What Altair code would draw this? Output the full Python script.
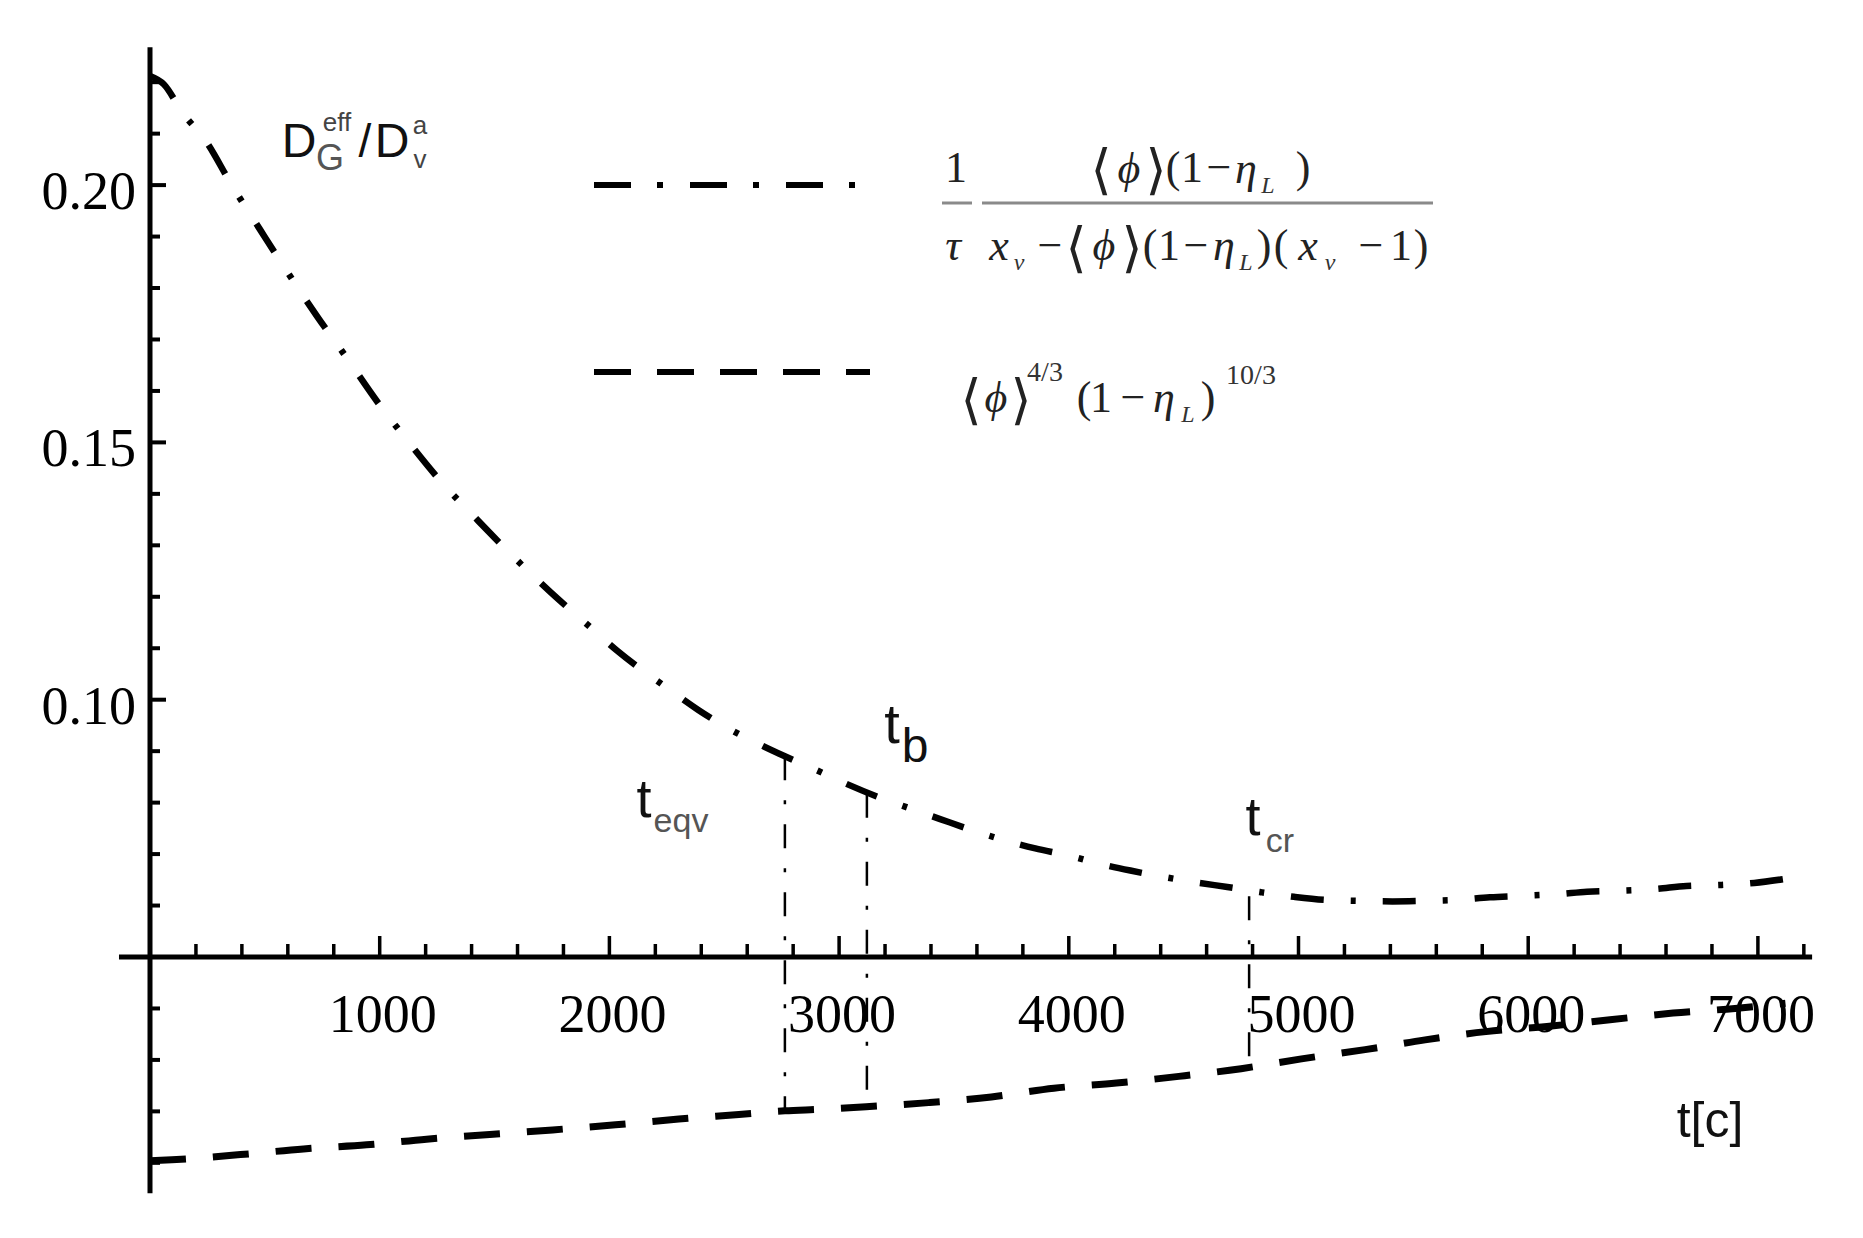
import altair as alt
import pandas as pd

# ---------------- values ----------------
# upper curve (dash-dot):  1/tau * <phi>(1-eta_L) / (x_v - <phi>(1-eta_L)(x_v-1))
upper_t = [0, 60, 141, 241, 356, 480, 597, 726, 860, 988,
           1127, 1265, 1428, 1582, 1746, 1914, 2034, 2260, 2387, 2503,
           2636, 2764, 2902, 3024, 3164, 3300, 3440, 3582, 3718, 3854,
           4000, 4126, 4268, 4408, 4554, 4690, 4835, 4980, 5114, 5262,
           5409, 5547, 5695, 5833, 5980, 6127, 6256, 6409, 6551, 6689,
           6836, 6984, 7122]
upper_v = [0.2212, 0.2196, 0.2141, 0.2087, 0.2000, 0.1913, 0.1832, 0.1746, 0.1662, 0.1580,
           0.1500, 0.1425, 0.1348, 0.1278, 0.1208, 0.1142, 0.1095, 0.1020, 0.0980, 0.0948,
           0.0917, 0.0890, 0.0863, 0.0838, 0.0812, 0.0790, 0.0768, 0.0746, 0.0727, 0.0711,
           0.0697, 0.0682, 0.0668, 0.0656, 0.0645, 0.0636, 0.0626, 0.0617, 0.0611, 0.0609,
           0.0608, 0.0609, 0.0611, 0.0616, 0.0619, 0.0622, 0.0627, 0.0629, 0.0632, 0.0638,
           0.0640, 0.0644, 0.0652]

# lower curve (dashed):  <phi>^(4/3) (1-eta_L)^(10/3)
lower_t = [0, 95, 394, 668, 943, 1204, 1479, 1753, 2027, 2302,
           2564, 2764, 2919, 3118, 3390, 3663, 3935, 4207, 4479, 4750,
           5013, 5290, 5551, 5816, 6102, 6356, 6631, 6900, 7120]
lower_v = [0.0104, 0.0106, 0.0116, 0.0127, 0.0135, 0.0146, 0.0155, 0.0164, 0.0174, 0.0185,
           0.0194, 0.0201, 0.0204, 0.0209, 0.0217, 0.0228, 0.0245, 0.0255, 0.0268, 0.0283,
           0.0302, 0.0320, 0.0339, 0.0355, 0.0366, 0.0378, 0.0391, 0.0400, 0.0410]

# vertical markers t_eqv, t_b, t_cr
marker_t = [2764, 3121, 4785]
marker_top = [0.0890, 0.0817, 0.0618]
marker_bottom = [0.0201, 0.0209, 0.0286]

# axes
x_tick_values = [1000, 2000, 3000, 4000, 5000, 6000, 7000]
x_tick_labels = ["1000", "2000", "3000", "4000", "5000", "6000", "7000"]
x_minor_values = [200, 400, 600, 800, 1200, 1400, 1600, 1800, 2200, 2400, 2600, 2800,
                  3200, 3400, 3600, 3800, 4200, 4400, 4600, 4800, 5200, 5400, 5600, 5800,
                  6200, 6400, 6600, 6800, 7200]
y_tick_values = [0.10, 0.15, 0.20]
y_tick_labels = ["0.10", "0.15", "0.20"]
y_minor_values = [0.01, 0.02, 0.03, 0.04, 0.06, 0.07, 0.08, 0.09, 0.11, 0.12, 0.13, 0.14,
                  0.16, 0.17, 0.18, 0.19, 0.21, 0.22]
x_axis_extent = [-135, 7236]
y_axis_extent = [0.0041, 0.2268]
axis_cross_v = 0.05

# ---------------- layout ----------------
W, H = 1840, 1212
M = 8
X0, SX = 150.0, 0.2297      # page px of t=0, px per unit t
Y0, SY = 957.0, 5146.0      # page px of v=0.05, px per unit v


def tx(px):
    return (px - X0) / SX


def vy(py):
    return axis_cross_v + (Y0 - py) / SY


XMIN, XMAX = tx(M), tx(M + W)
YMAX, YMIN = vy(M), vy(M + H)

xs = alt.Scale(domain=[XMIN, XMAX], nice=False, zero=False)
ys = alt.Scale(domain=[YMIN, YMAX], nice=False, zero=False)
X = alt.X("t:Q", scale=xs, axis=None)
Y = alt.Y("v:Q", scale=ys, axis=None)

SERIF = "Liberation Serif, Times New Roman, DejaVu Serif, serif"
SANS = "Liberation Sans, Arial, DejaVu Sans, sans-serif"


def rules(df, **mk):
    return alt.Chart(df).mark_rule(**mk).encode(
        x=X, x2=alt.X2("t2:Q"), y=Y, y2=alt.Y2("v2:Q"))


# curves
upper = alt.Chart(pd.DataFrame({"t": upper_t, "v": upper_v})).mark_line(
    color="black", strokeWidth=6.5, strokeDash=[33, 27, 5, 27], interpolate="monotone"
).encode(x=X, y=Y)
lower = alt.Chart(pd.DataFrame({"t": lower_t, "v": lower_v})).mark_line(
    color="black", strokeWidth=7, strokeDash=[36, 27], interpolate="monotone"
).encode(x=X, y=Y)

markers = rules(pd.DataFrame({"t": marker_t, "t2": marker_t, "v": marker_top, "v2": marker_bottom}),
                color="black", strokeWidth=2.5, strokeDash=[24, 20, 4, 20])

# axis lines
axes_df = pd.DataFrame({"t": [x_axis_extent[0], 0], "t2": [x_axis_extent[1], 0],
                        "v": [axis_cross_v, y_axis_extent[0]], "v2": [axis_cross_v, y_axis_extent[1]]})
axes = rules(axes_df, color="black", strokeWidth=5)

# ticks (y ticks point right, x ticks point up)
yt = y_tick_values + y_minor_values
ylen = [16] * len(y_tick_values) + [10] * len(y_minor_values)
yticks = rules(pd.DataFrame({"t": [0] * len(yt), "t2": [l / SX for l in ylen], "v": yt, "v2": yt}),
               color="black", strokeWidth=4)
xt = x_tick_values + x_minor_values
xlen = [21] * len(x_tick_values) + [13] * len(x_minor_values)
xticks = rules(pd.DataFrame({"t": xt, "t2": xt, "v": [axis_cross_v] * len(xt),
                             "v2": [axis_cross_v + l / SY for l in xlen]}),
               color="black", strokeWidth=3.5)

# tick labels
xlab = alt.Chart(pd.DataFrame({"t": x_tick_values, "v": [vy(1032)] * len(x_tick_values),
                               "text": x_tick_labels})).mark_text(
    font=SERIF, fontSize=54, align="center", baseline="alphabetic", dx=3, color="black"
).encode(x=X, y=Y, text="text:N")
ylab = alt.Chart(pd.DataFrame({"t": [0] * len(y_tick_values), "v": y_tick_values,
                               "text": y_tick_labels})).mark_text(
    font=SERIF, fontSize=54, align="right", baseline="alphabetic", dx=-14, dy=24, color="black"
).encode(x=X, y=Y, text="text:N")

# ---------------- annotations (page px: centre x, baseline y) ----------------
sans_rows = [
    ("D", 299, 157, 48, "#111"), ("eff", 337, 131, 26, "#444"), ("G", 330, 170, 36, "#555"),
    ("/", 365, 157, 46, "#111"), ("D", 392, 157, 48, "#111"), ("a", 420, 134, 26, "#444"),
    ("v", 420, 168, 26, "#444"),
    ("t", 892, 743, 56, "#111"), ("b", 915, 762, 48, "#111"),
    ("t", 644, 817, 54, "#111"), ("eqv", 681, 832, 34, "#555"),
    ("t", 1253, 835, 54, "#111"), ("cr", 1280, 852, 34, "#555"),
    ("t[c]", 1710, 1137, 50, "#111"),
]
serif_rows = [
    ("1", 956, 182, 44, "#222"),
    ("(", 1173, 182, 44, "#222"),
    ("1", 1192, 182, 44, "#222"), ("−", 1219, 182, 44, "#222"), (")", 1303, 182, 44, "#222"),
    ("−", 1050, 260, 44, "#222"),
    ("(", 1150, 260, 44, "#222"), ("1", 1169, 260, 44, "#222"), ("−", 1196, 260, 44, "#222"),
    (")", 1264, 260, 44, "#222"), ("(", 1281, 260, 44, "#222"), ("−", 1371, 260, 44, "#222"),
    ("1", 1401, 260, 44, "#222"), (")", 1421, 260, 44, "#222"),
    ("4/3", 1045, 381, 28, "#333"),
    ("(", 1084, 412, 44, "#222"), ("1", 1101, 412, 44, "#222"), ("−", 1133, 412, 44, "#222"),
    (")", 1208, 412, 44, "#222"), ("10/3", 1251, 384, 28, "#333"),
]
bracket_rows = [
    ("⟨", 1101, 188, 54, "#222"), ("⟩", 1156, 188, 54, "#222"),
    ("⟨", 1076, 266, 54, "#222"), ("⟩", 1132, 266, 54, "#222"),
    ("⟨", 971, 418, 54, "#222"), ("⟩", 1021, 418, 54, "#222"),
]
italic_rows = [
    ("τ", 953, 260, 44, "#222"), ("ϕ", 1129, 183, 44, "#222"), ("η", 1246, 183, 44, "#222"),
    ("L", 1268, 193, 24, "#333"),
    ("x", 999, 260, 44, "#222"), ("v", 1019, 270, 24, "#333"), ("ϕ", 1104, 260, 44, "#222"),
    ("η", 1224, 260, 44, "#222"), ("L", 1246, 270, 24, "#333"), ("x", 1308, 260, 44, "#222"),
    ("v", 1330, 270, 24, "#333"),
    ("ϕ", 996, 412, 44, "#222"), ("η", 1164, 412, 44, "#222"), ("L", 1188, 422, 24, "#333"),
]


def text_layer(rows, font, style="normal"):
    df = pd.DataFrame({"text": [r[0] for r in rows], "t": [tx(r[1]) for r in rows],
                       "v": [vy(r[2]) for r in rows], "size": [r[3] for r in rows],
                       "col": [r[4] for r in rows]})
    return alt.Chart(df).mark_text(font=font, fontStyle=style, align="center",
                                   baseline="alphabetic").encode(
        x=X, y=Y, text="text:N",
        size=alt.Size("size:Q", scale=None, legend=None),
        color=alt.Color("col:N", scale=None, legend=None))


sans_txt = text_layer(sans_rows, SANS)
serif_txt = text_layer(serif_rows, SERIF)
bracket_txt = text_layer(bracket_rows, "DejaVu Serif, DejaVu Sans, serif")
italic_txt = text_layer(italic_rows, SERIF, "italic")

# fraction bars
bars = rules(pd.DataFrame({"t": [tx(942), tx(982)], "t2": [tx(972), tx(1433)],
                           "v": [vy(203), vy(203)], "v2": [vy(203), vy(203)]}),
             color="#8a8a8a", strokeWidth=3)

# legend samples
leg1 = rules(pd.DataFrame({"t": [tx(594)], "t2": [tx(864)], "v": [vy(185)], "v2": [vy(185)]}),
             color="black", strokeWidth=6, strokeDash=[37, 26, 6, 27])
leg2 = rules(pd.DataFrame({"t": [tx(594)], "t2": [tx(870)], "v": [vy(372)], "v2": [vy(372)]}),
             color="black", strokeWidth=6, strokeDash=[37, 26])

chart = alt.layer(
    axes, xticks, yticks, markers, upper, lower, xlab, ylab,
    bars, leg1, leg2, sans_txt, serif_txt, bracket_txt, italic_txt
).properties(
    width=W, height=H, padding=0, autosize=alt.AutoSizeParams(type="none")
).configure_view(stroke=None)

chart.save("out.html", embed_options={"renderer": "svg", "actions": False})
